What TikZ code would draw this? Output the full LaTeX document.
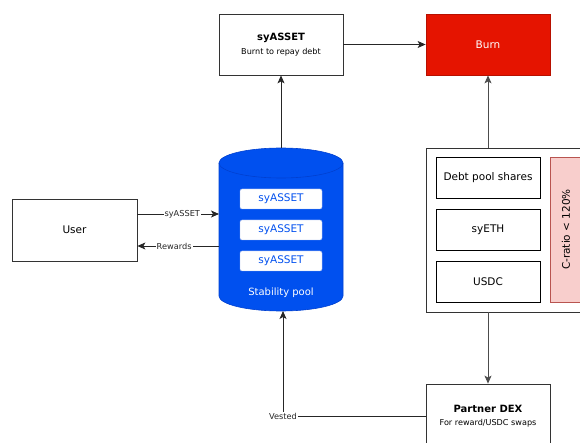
\documentclass[tikz,border=0pt]{standalone}
\usepackage{fontspec}
\setmainfont{DejaVu Sans}
\usetikzlibrary{arrows.meta,shapes.geometric}
\definecolor{dred}{HTML}{E51400}
\definecolor{dblue}{HTML}{0050EF}
\definecolor{dblueline}{HTML}{0040D0}
\definecolor{pinkf}{HTML}{F8CECC}
\definecolor{pinkl}{HTML}{B85450}
\tikzset{
  box/.style={draw=black!80,line width=0.8pt,fill=white,minimum width=124pt,minimum height=61pt,inner sep=0pt,font=\fontsize{10.5}{12}\selectfont},
  sbox/.style={draw=black,line width=0.8pt,fill=white,minimum width=104pt,minimum height=41pt,inner sep=0pt,font=\fontsize{10.5}{12}\selectfont},
  ibox/.style={draw=dblueline!40,fill=white,rounded corners=2pt,minimum width=82pt,minimum height=20pt,inner sep=0pt,text=dblue,font=\fontsize{10.5}{12}\selectfont},
  arr/.style={-{Stealth[length=8pt,width=7pt,inset=2pt]},line width=0.8pt,draw=black!85},
  lbl/.style={fill=white,inner sep=1pt,font=\fontsize{8.2}{9}\selectfont,text=black!85}
}
\begin{document}
\begin{tikzpicture}[x=1pt,y=-1pt]
\useasboundingbox (0,0) rectangle (580,443);
\begin{scope}
\clip (0,0) rectangle (580,443);
% syASSET box
\node[box] (sya) at (281,44.5) {};
\node[font=\bfseries\fontsize{10}{12}\selectfont] (syat) at (281,38) {syASSET};
\node[font=\fontsize{8.1}{9}\selectfont] (syas) at (281,52.5) {Burnt to repay debt};
% Burn
\node[box,fill=dred,draw=dred!80!black,text=white] (burn) at (488,44.5) {Burn};
% cylinder
\fill[dblue,draw=dblueline,line width=0.6pt] (219,163) -- (219,296) arc[start angle=180,end angle=360,x radius=62,y radius=-15] -- (343,163) arc[start angle=0,end angle=180,x radius=62,y radius=-15] -- cycle;
\draw[dblueline,line width=0.6pt] (219,163) arc[start angle=180,end angle=360,x radius=62,y radius=-15];
\coordinate (cyltop) at (281,148);
\coordinate (cylbot) at (283,311);
\coordinate (cylL1) at (219,214);
\coordinate (cylL2) at (219,246);
\node[ibox] (i1) at (281,199) {syASSET};
\node[ibox] (i2) at (281,230) {syASSET};
\node[ibox] (i3) at (281,261) {syASSET};
\node[text=white,font=\fontsize{10}{12}\selectfont] (sp) at (281,293) {Stability pool};
% User
\node[box,minimum width=125pt,minimum height=62pt] (user) at (74.5,230) {User};
% container
\node[draw=black!80,line width=0.8pt,minimum width=170pt,minimum height=164pt,inner sep=0pt] (cont) at (511,230) {};
\node[sbox] (debt) at (488,177.5) {Debt pool shares};
\node[sbox] (syeth) at (488,229.5) {syETH};
\node[sbox] (usdc) at (488,281.5) {USDC};
\node[draw=pinkl,fill=pinkf,line width=0.6pt,minimum width=40pt,minimum height=145pt,inner sep=0pt] (cr) at (570,229.5) {};
\node[rotate=90,font=\fontsize{10.5}{12}\selectfont] (crt) at (566,229.5) {C-ratio < 120\%};
% Partner DEX
\node[box,minimum height=70pt] (dex) at (488,419) {};
\node[font=\bfseries\fontsize{10}{12}\selectfont] (dext) at (488,409) {Partner DEX};
\node[font=\fontsize{8.1}{9}\selectfont] (dexs) at (488,423.5) {For reward/USDC swaps};
\end{scope}
% connectors
\draw[arr] (sya.east) -- (burn.west);
\draw[arr] (cyltop) -- (sya.south);
\draw[arr,draw=black!70] (cont.north -| burn.south) -- (burn.south);
\draw[arr,draw=black!70] (cont.south -| dex.north) -- (dex.north);
\draw[arr] (user.east |- cylL1) -- node[lbl,pos=0.55]{syASSET} (cylL1);
\draw[arr] (cylL2) -- node[lbl,pos=0.55]{Rewards} (user.east |- cylL2);
\coordinate (vc) at (283,416);
\draw[arr,draw=black!85] (dex.west |- vc) -- (vc) -- (cylbot);
\node[lbl] (vest) at (283,416) {Vested};
\end{tikzpicture}
\end{document}
